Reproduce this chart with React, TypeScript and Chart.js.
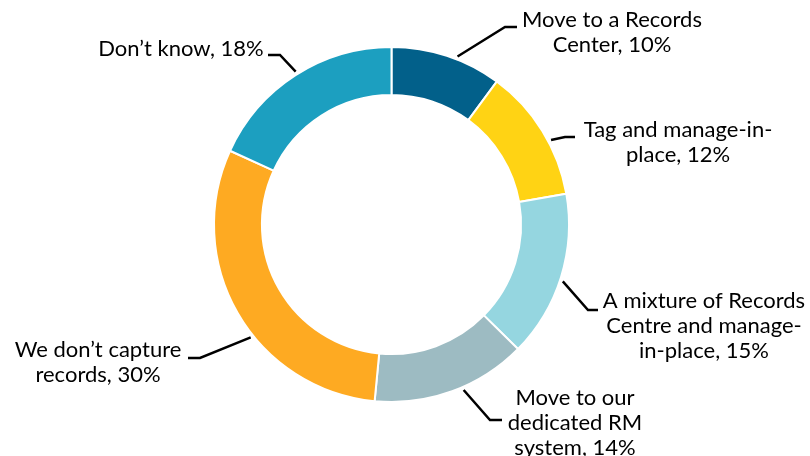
import React, { useEffect, useRef } from "react";
import { Chart, registerables } from "chart.js";

Chart.register(...registerables);

const categories = [
  "Move to a Records Center",
  "Tag and manage-in-place",
  "A mixture of Records Centre and manage-in-place",
  "Move to our dedicated RM system",
  "We don’t capture records",
  "Don’t know",
];
const values = [10, 12, 15, 14, 30, 18];
const labelLines = [
  ["Move to a Records", "Center, 10%"],
  ["Tag and manage-in-", "place, 12%"],
  ["A mixture of Records", "Centre and manage-", "in-place, 15%"],
  ["Move to our", "dedicated RM", "system, 14%"],
  ["We don’t capture", "records, 30%"],
  ["Don’t know, 18%"],
];
const colors = ["#02608A", "#FFD314", "#95D6E0", "#9DBBC2", "#FEAA22", "#1C9FC0"];

// label layout: fraction along slice for leader start, elbow, end of horizontal, text center x, first baseline
const labelLayout = [
  { f: 0.59, ex: 505, ey: 27, hx: 517, tx: 612, ty: 27 },
  { f: 0.59, ex: 565, ey: 137, hx: 575, tx: 678, ty: 137 },
  { f: 0.52, ex: 588, ey: 310, hx: 598, tx: 704, ty: 308 },
  { f: 0.43, ex: 490, ey: 420, hx: 502, tx: 575, ty: 405 },
  { f: 0.42, ex: 200, ey: 358, hx: 188, tx: 98, ty: 357 },
  { f: 0.51, ex: 280, ey: 55, hx: 268, tx: 181, ty: 56 },
];

const FONT = "22px Lato";
const LINE_H = 25;

const labelPlugin = {
  id: "leaderLabels",
  afterDraw(chart: any) {
    const ctx = chart.ctx;
    const meta = chart.getDatasetMeta(0);
    ctx.save();
    meta.data.forEach((arc: any, i: number) => {
      const p = arc.getProps(["x", "y", "startAngle", "endAngle", "outerRadius"], true);
      const L = labelLayout[i];
      const a = p.startAngle + (p.endAngle - p.startAngle) * L.f;
      const r = p.outerRadius + 3;
      const sx = p.x + Math.cos(a) * r;
      const sy = p.y + Math.sin(a) * r;
      ctx.strokeStyle = "#000";
      ctx.lineWidth = 2.5;
      ctx.beginPath();
      ctx.moveTo(sx, sy);
      ctx.lineTo(L.ex, L.ey);
      ctx.lineTo(L.hx, L.ey);
      ctx.stroke();
      ctx.fillStyle = "#000";
      ctx.font = FONT;
      ctx.textAlign = "center";
      ctx.textBaseline = "alphabetic";
      labelLines[i].forEach((line, j) => {
        ctx.fillText(line, L.tx, L.ty + j * LINE_H);
      });
    });
    ctx.restore();
  },
};

export default function App() {
  const ref = useRef<HTMLCanvasElement>(null);
  useEffect(() => {
    if (!ref.current) return;
    const chart = new Chart(ref.current, {
      type: "doughnut",
      data: {
        labels: categories,
        datasets: [
          {
            data: values,
            backgroundColor: colors,
            borderColor: "#ffffff",
            borderWidth: 2,
          },
        ],
      },
      options: {
        animation: false,
        responsive: true,
        maintainAspectRatio: false,
        cutout: "73%",
        layout: { padding: { top: 46, bottom: 53, left: 199, right: 226 } },
        plugins: { legend: { display: false }, tooltip: { enabled: false } },
      },
      plugins: [labelPlugin],
    });
    return () => chart.destroy();
  }, []);
  return (
    <div style={{ position: "fixed", left: 0, top: 0, width: 810, height: 456, background: "#fff" }}>
      <canvas ref={ref} />
    </div>
  );
}
